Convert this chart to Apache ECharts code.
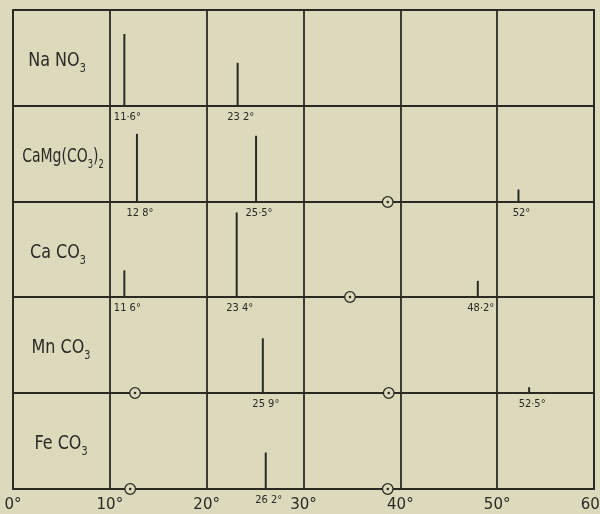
<!DOCTYPE html>
<html>
<head>
<meta charset="utf-8">
<script src="https://cdn.jsdelivr.net/npm/echarts@6/dist/echarts.min.js"></script>
<style>
  html, body { margin: 0; padding: 0; background: #dcd9bd; }
  #chart { width: 600px; height: 514px; }
</style>
</head>
<body>
<div id="chart"></div>
<script>
// compounds, one row each (rich text: {s|..} is a subscript)
const rowNames = ['Na NO{s|3}', 'CaMg(CO{s|3}){s|2}', 'Ca CO{s|3}', 'Mn CO{s|3}', 'Fe CO{s|3}']
// line positions (degrees) as drawn, their heights (row = 100) and printed labels
const peakAngles = [[11.5, 23.2], [12.8, 25.1, 52.2], [11.5, 23.1, 48.0], [25.8, 53.3], [26.1]]
const peakHeights = [[75, 45], [71, 69, 13], [28, 89, 17], [57, 6], [38]]
const peakLabels = [['11·6°', '23 2°'], ['12 8°', '25·5°', '52°'], ['11 6°', '23 4°', '48·2°'], ['25 9°', '52·5°'], ['26 2°']]
// small circles on each row's base line
const circleAngles = [[], [38.7], [34.8], [12.6, 38.8], [12.1, 38.7]]

const ink = '#2b2a22'
const bg = '#dcd9bd'
const font = '"DejaVu Sans", sans-serif'

const TOP = 10
const ROW_H = 95.8
const LEFT = 13
const RIGHT = 6
const rowTop = i => Math.round(TOP + i * ROW_H)
// the printed names are set in a condensed face; squeeze them horizontally
const nameSqueeze = [0.8, 0.7, 0.8, 0.8, 0.8]
const nameX = [57, 63, 58, 61, 61]

const chart = echarts.init(document.getElementById('chart'))

const grids = []
const xAxes = []
const yAxes = []
const series = []
const graphics = []

rowNames.forEach((name, i) => {
  const last = i === rowNames.length - 1
  const top = rowTop(i)
  const height = rowTop(i + 1) - top
  grids.push({
    left: LEFT, right: RIGHT, top: top, height: height,
    show: true, borderColor: ink, borderWidth: 1.8,
    containLabel: false, outerBoundsMode: 'none'
  })
  xAxes.push({
    gridIndex: i, type: 'value', min: 0, max: 60, interval: 10,
    axisLine: { show: false }, axisTick: { show: false },
    splitLine: { show: true, lineStyle: { color: ink, width: 1.8 } },
    axisLabel: {
      show: last, margin: 9, color: ink, fontSize: 15,
      fontFamily: font, formatter: '{value}°'
    }
  })
  yAxes.push({ gridIndex: i, type: 'value', min: 0, max: 100, show: false })

  series.push({
    type: 'custom', xAxisIndex: i, yAxisIndex: i, clip: false, z: 5,
    data: peakAngles[i].map((a, j) => [a, peakHeights[i][j]]),
    renderItem: (params, api) => {
      const p0 = api.coord([api.value(0), 0])
      const p1 = api.coord([api.value(0), api.value(1)])
      return {
        type: 'group',
        children: [
          { type: 'line', shape: { x1: p0[0], y1: p0[1], x2: p1[0], y2: p1[1] },
            style: { stroke: ink, lineWidth: 2 } },
          { type: 'text', x: p0[0] + 3, y: p0[1] + 11, scaleX: 0.9,
            style: { text: peakLabels[i][params.dataIndex], fill: ink, fontSize: 11,
                     fontFamily: font, align: 'center', verticalAlign: 'middle' } }
        ]
      }
    }
  })

  series.push({
    type: 'custom', xAxisIndex: i, yAxisIndex: i, clip: false, z: 6,
    data: circleAngles[i].map(a => [a, 0]),
    renderItem: (params, api) => {
      const c = api.coord([api.value(0), 0])
      return {
        type: 'group',
        children: [
          { type: 'circle', shape: { cx: c[0], cy: c[1], r: 5.3 },
            style: { fill: bg, stroke: ink, lineWidth: 1.3 } },
          { type: 'circle', shape: { cx: c[0], cy: c[1], r: 1.3 }, style: { fill: ink } }
        ]
      }
    }
  })

  graphics.push({
    type: 'text', x: nameX[i], y: top + height / 2 + 3, scaleX: nameSqueeze[i],
    style: {
      text: name.replace(/^([^{]+)/, '{n|$1}').replace(/\}([^{}]+)\{/g, '}{n|$1}{'),
      align: 'center', verticalAlign: 'middle',
      rich: {
        n: { fontSize: 20, lineHeight: 28, fontFamily: font, fill: ink, color: ink },
        s: { fontSize: 12, lineHeight: 12, padding: [16, 0, 0, 0], fontFamily: font, fill: ink, color: ink }
      }
    }
  })
})

chart.setOption({
  backgroundColor: bg,
  animation: false,
  grid: grids,
  xAxis: xAxes,
  yAxis: yAxes,
  series: series,
  graphic: graphics
})
</script>
</body>
</html>
